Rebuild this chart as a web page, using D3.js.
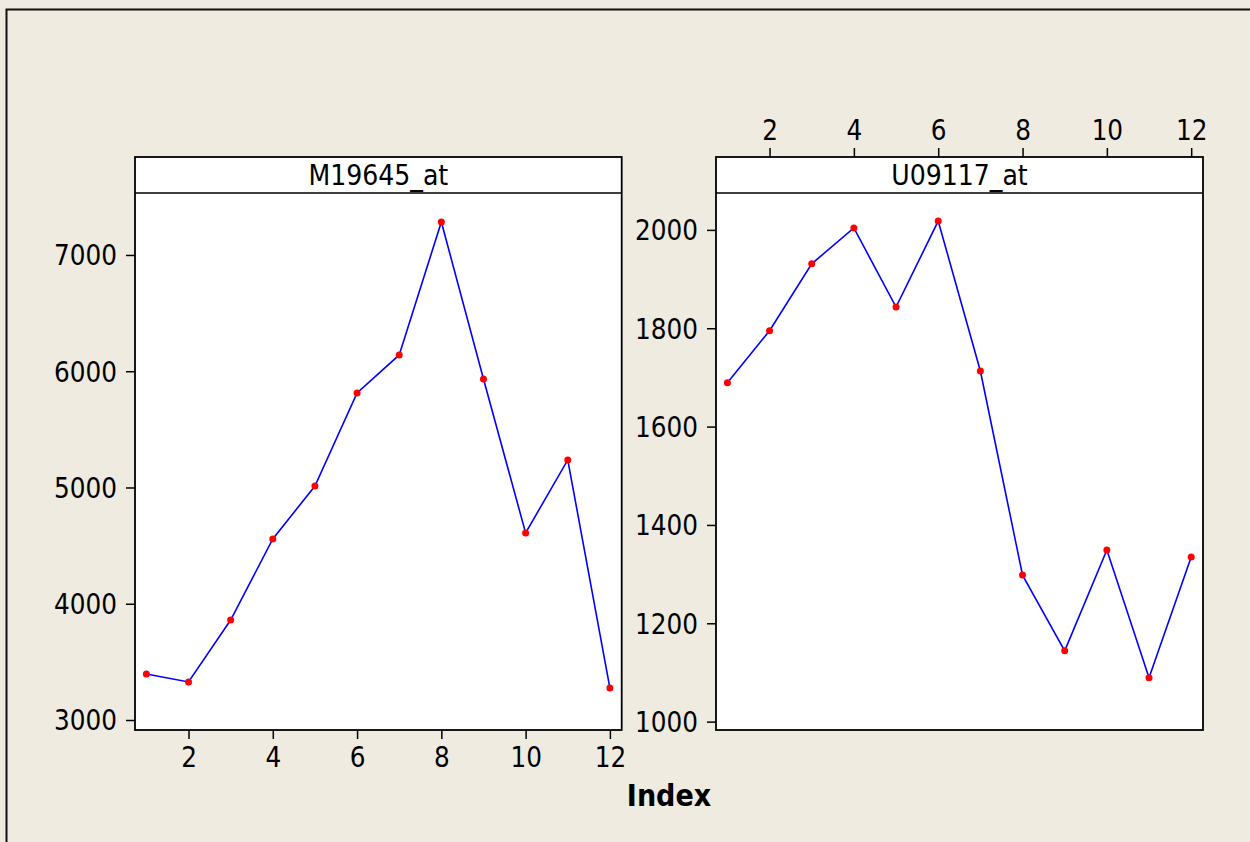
<!DOCTYPE html>
<html>
<head>
<meta charset="utf-8">
<script src="https://cdn.jsdelivr.net/npm/d3@7"></script>
<style>
  body { margin: 0; background: #efebe1; }
  svg { display: block; }
  text { font-family: "DejaVu Sans Condensed", "Noto Sans", sans-serif; fill: #000; }
</style>
</head>
<body>
<svg id="root"></svg>
<script>
var width = 1250,
    height = 842;

// data
var index = [1, 2, 3, 4, 5, 6, 7, 8, 9, 10, 11, 12];
var panelNames = ['M19645_at', 'U09117_at'];
var m19645 = [3396, 3327, 3860, 4557, 5013, 5813, 6140, 7284, 5933, 4609, 5237, 3275];
var u09117 = [1689, 1795, 1931, 2004, 1843, 2018, 1713, 1298, 1144, 1349, 1089, 1335];
var xTicks = [2, 4, 6, 8, 10, 12];
var yTicksM = [3000, 4000, 5000, 6000, 7000];
var yTicksU = [1000, 1200, 1400, 1600, 1800, 2000];

var root = d3.select('#root')
    .attr('width', width)
    .attr('height', height);

root.append('rect')
    .attr('width', width)
    .attr('height', height)
    .attr('fill', '#efebe1');

// outer frame (only top and left edges visible)
root.append('rect')
    .attr('x', 6.5)
    .attr('y', 9.5)
    .attr('width', width + 20)
    .attr('height', height + 20)
    .attr('fill', 'none')
    .attr('stroke', '#111')
    .attr('stroke-width', 2);

var stripTop = 157, stripBottom = 193, plotBottom = 730;

var panels = [
    { name: panelNames[0], values: m19645, left: 135, right: 621.7,
      yDomain: [2914, 7533], yTicks: yTicksM, xAxisPos: 'bottom' },
    { name: panelNames[1], values: u09117, left: 716, right: 1203,
      yDomain: [983, 2075], yTicks: yTicksU, xAxisPos: 'top' }
];

panels.forEach(function(p) {
    var g = root.append('g');
    var x = d3.scaleLinear().domain([0.73, 12.28]).range([p.left, p.right]);
    var y = d3.scaleLinear().domain(p.yDomain).range([plotBottom, stripBottom]);

    // panel background
    g.append('rect')
        .attr('x', p.left).attr('y', stripTop)
        .attr('width', p.right - p.left).attr('height', plotBottom - stripTop)
        .attr('fill', '#fff');

    // y axis
    var yAxis = g.append('g')
        .attr('transform', 'translate(' + p.left + ',0)')
        .call(d3.axisLeft(y).tickValues(p.yTicks).tickSize(9).tickPadding(9).tickFormat(d3.format('d')));
    yAxis.select('.domain').remove();
    yAxis.selectAll('line').attr('stroke', '#000').attr('stroke-width', 1.5);
    yAxis.selectAll('text').style('font-size', '27.5px').attr('dy', '0.36em');

    // x axis
    var xAxis;
    if (p.xAxisPos === 'bottom') {
        xAxis = g.append('g')
            .attr('transform', 'translate(0,' + plotBottom + ')')
            .call(d3.axisBottom(x).tickValues(xTicks).tickSize(9).tickPadding(8));
    } else {
        xAxis = g.append('g')
            .attr('transform', 'translate(0,' + stripTop + ')')
            .call(d3.axisTop(x).tickValues(xTicks).tickSize(9).tickPadding(8));
    }
    xAxis.select('.domain').remove();
    xAxis.selectAll('line').attr('stroke', '#000').attr('stroke-width', 1.5);
    xAxis.selectAll('text').style('font-size', '27.5px');

    // line and points
    var line = d3.line()
        .x(function(d, i) { return x(index[i]); })
        .y(function(d) { return y(d); });

    g.append('path')
        .datum(p.values)
        .attr('d', line)
        .attr('fill', 'none')
        .attr('stroke', '#0000ff')
        .attr('stroke-width', 1.6);

    g.selectAll('.pt')
        .data(p.values)
        .enter()
            .append('circle')
            .attr('class', 'pt')
            .attr('cx', function(d, i) { return x(index[i]); })
            .attr('cy', function(d) { return y(d); })
            .attr('r', 3.5)
            .attr('fill', '#ff0000');

    // strip
    g.append('line')
        .attr('x1', p.left).attr('x2', p.right)
        .attr('y1', stripBottom).attr('y2', stripBottom)
        .attr('stroke', '#000').attr('stroke-width', 1.5);
    g.append('text')
        .attr('x', (p.left + p.right) / 2)
        .attr('y', (stripTop + stripBottom) / 2)
        .attr('dy', '0.36em')
        .attr('text-anchor', 'middle')
        .style('font-size', '28px')
        .text(p.name);

    // panel border
    g.append('rect')
        .attr('x', p.left).attr('y', stripTop)
        .attr('width', p.right - p.left).attr('height', plotBottom - stripTop)
        .attr('fill', 'none')
        .attr('stroke', '#000')
        .attr('stroke-width', 1.8);
});

root.append('text')
    .attr('x', 669)
    .attr('y', 806)
    .attr('text-anchor', 'middle')
    .style('font-size', '30px')
    .style('font-weight', 'bold')
    .text('Index');
</script>
</body>
</html>
